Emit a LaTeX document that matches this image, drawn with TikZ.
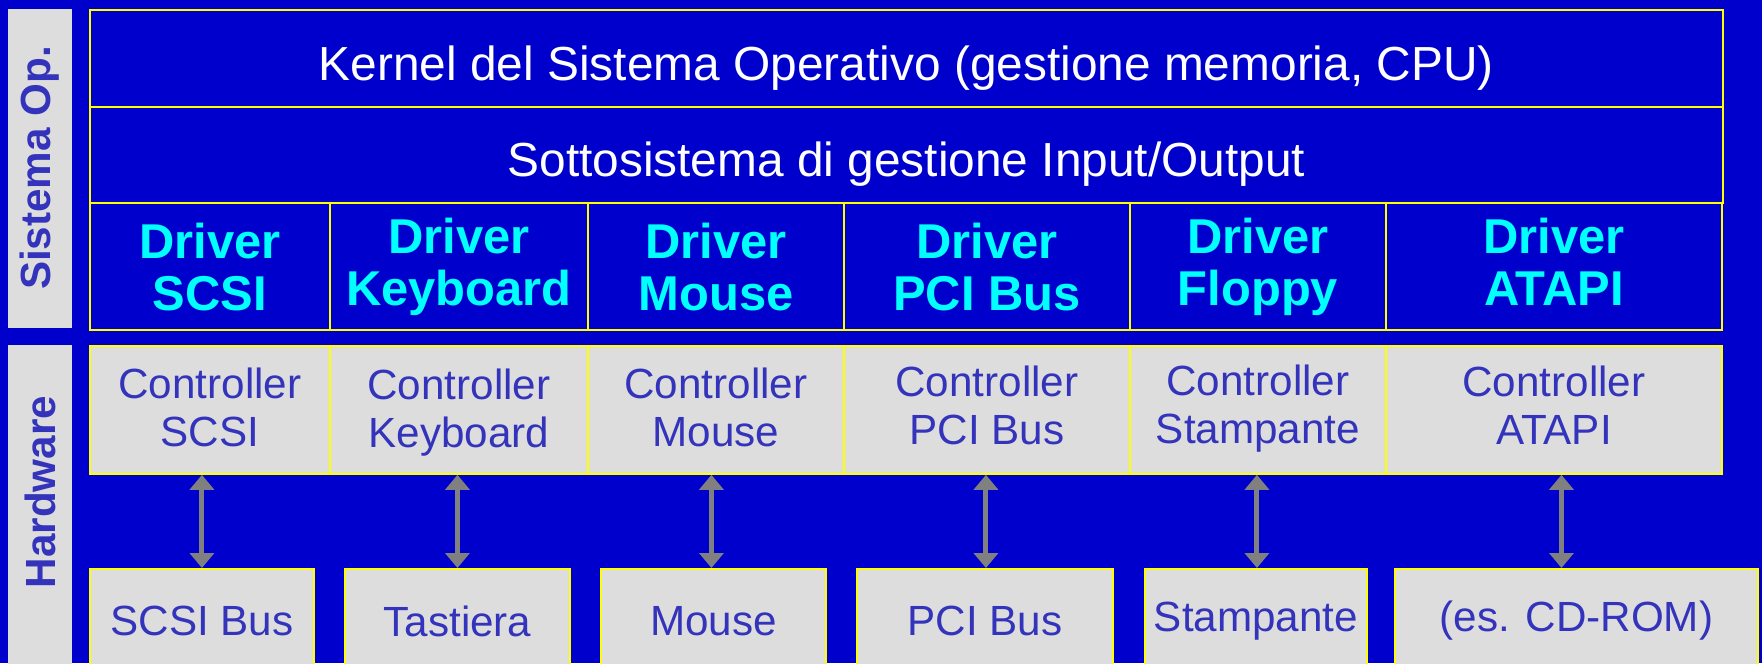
\documentclass[tikz,border=0pt]{standalone}
\usepackage{fontspec}
\setmainfont{Liberation Sans}
\usetikzlibrary{arrows.meta, positioning}
\definecolor{bgblue}{RGB}{0,0,204}
\definecolor{hwgray}{RGB}{221,221,221}
\definecolor{inkblue}{RGB}{51,51,187}
\definecolor{lineyellow}{RGB}{255,255,0}
\definecolor{drvcyan}{RGB}{0,255,255}
\definecolor{arrowgray}{RGB}{128,128,128}

\begin{document}
\begin{tikzpicture}[x=0.01cm, y=-0.01cm,
  layer/.style={draw=lineyellow, line width=0.5pt, fill=bgblue, text=white,
    font=\fontsize{13.6}{16}\selectfont, inner sep=0pt, anchor=north west,
    minimum width=16.32cm, text height=0.44cm, text depth=0cm},
  drvbox/.style={draw=lineyellow, line width=0.5pt, fill=bgblue, text=drvcyan,
    font=\fontsize{13.9}{14.8}\selectfont\bfseries, align=center, inner sep=0pt,
    anchor=north west, minimum height=1.27cm},
  ctlbox/.style={draw=lineyellow, line width=0.5pt, fill=hwgray, text=inkblue,
    font=\fontsize{12}{13.6}\selectfont, align=center, inner sep=0pt,
    anchor=north west, minimum height=1.28cm},
  devbox/.style={ctlbox, minimum height=1.04cm},
  sidelabel/.style={text=inkblue, font=\fontsize{12}{14}\selectfont\bfseries,
    rotate=90, inner sep=0pt},
  link/.style={arrowgray, line width=1.4pt,
    {Triangle[width=0.24cm,length=0.15cm]}-{Triangle[width=0.24cm,length=0.15cm]}}
]
  \useasboundingbox (0,0) rectangle (1762,663);
  \clip (0,0) rectangle (1762,663);
  \fill[bgblue] (0,0) rectangle (1762,663);

  % side bars
  \fill[hwgray] (8,9) rectangle (72,328);
  \fill[hwgray] (8,345) rectangle (72,680);
  \node[sidelabel] (sysop) at (40,168) {Sistema Op.};
  \node[sidelabel] (hw) at (40,492) {Hardware};

  % software layers
  \node[layer, minimum height=0.97cm] (kernel) at (89,9)
    {Kernel del Sistema Operativo (gestione memoria, CPU)};
  \node[layer, minimum height=0.96cm] (iosub) at (89,106)
    {Sottosistema di gestione Input/Output};

  % drivers and controllers
  \foreach \i/\xa/\xb/\dd/\cd/\drv/\ctl in {1/89/329/0/0.05/SCSI/SCSI,
      2/329/587/0.1/0.03/Keyboard/Keyboard, 3/587/843/0/0.05/Mouse/Mouse,
      4/843/1129/0/0.1/PCI Bus/PCI Bus, 5/1129/1385/0.1/0.12/Floppy/Stampante,
      6/1385/1721/0.1/0.1/ATAPI/ATAPI} {
    \pgfmathsetmacro\w{(\xb-\xa)/100}
    \node[drvbox, minimum width=\w cm, text depth=\dd cm] (drv\i) at (\xa,202)
      {Driver\\\drv};
    \node[ctlbox, minimum width=\w cm, text depth=\cd cm] (ctl\i) at (\xa,345)
      {Controller\\\ctl};
  }

  % devices
  \foreach \i/\xa/\xb/\dx/\dev in {1/89/313/0/SCSI Bus, 2/344/569/0/Tastiera,
      3/600/825/-2/Mouse, 4/856/1112/1/PCI Bus, 5/1144/1366/1/Stampante,
      6/1394/1757/-15/(es. CD-ROM)} {
    \pgfmathsetmacro\w{(\xb-\xa)/100}
    \node[devbox, minimum width=\w cm] (dev\i) at (\xa,568) {\dev};
    \draw[link] ([xshift=\dx*0.01cm]dev\i.north |- ctl\i.south)
      -- ([xshift=\dx*0.01cm]dev\i.north);
  }
\end{tikzpicture}
\end{document}
